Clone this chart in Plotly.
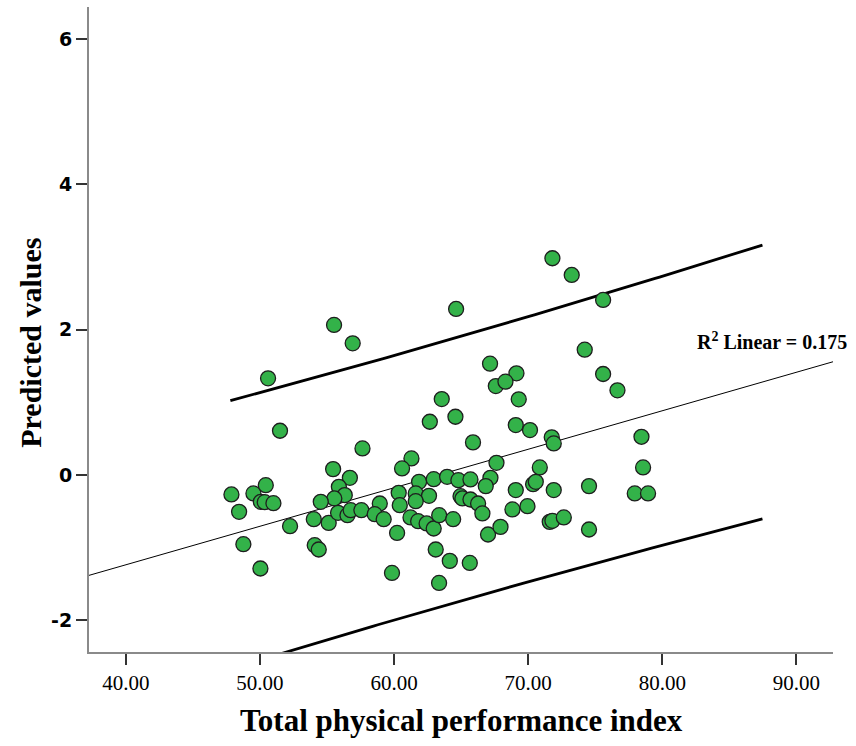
import numpy as np
import plotly.graph_objects as go

# Scatter data: Total physical performance index vs predicted values
perf_index = [
    50.61, 55.53, 56.92, 64.63, 67.16, 67.59, 63.56, 62.67, 64.58, 65.89,
    51.50, 57.65, 71.81, 73.25, 75.59, 74.22, 75.59, 76.66, 69.13, 68.31,
    69.30, 69.08, 70.14, 71.76, 71.91, 78.45, 78.57, 77.95, 78.94, 47.88,
    48.45, 49.52, 50.44, 50.07, 50.36, 51.01, 48.77, 50.04, 52.25, 55.46,
    56.71, 55.89, 56.33, 55.55, 54.54, 54.02, 55.13, 55.83, 56.53, 56.77,
    57.57, 54.09, 54.39, 61.30, 60.60, 67.64, 61.87, 62.96, 63.96, 64.80,
    65.70, 67.19, 66.84, 60.35, 61.62, 62.61, 61.62, 60.43, 58.94, 58.56,
    59.23, 61.23, 61.80, 62.43, 62.96, 63.37, 64.41, 64.96, 65.10, 65.70,
    66.27, 66.59, 67.01, 67.94, 60.23, 63.11, 64.16, 65.65, 59.85, 63.36,
    70.87, 74.54, 71.91, 70.37, 70.57, 69.08, 68.83, 69.95, 71.61, 71.81,
    72.66, 74.54,
]
predicted = [
    1.329, 2.064, 1.811, 2.284, 1.531, 1.223, 1.044, 0.732, 0.801, 0.448,
    0.608, 0.365, 2.982, 2.752, 2.408, 1.724, 1.389, 1.164, 1.398, 1.283,
    1.040, 0.686, 0.617, 0.517, 0.434, 0.525, 0.103, -0.255, -0.255, -0.269,
    -0.508, -0.255, -0.141, -0.370, -0.375, -0.389, -0.953, -1.288, -0.705, 0.080,
    -0.040, -0.164, -0.278, -0.324, -0.370, -0.609, -0.660, -0.522, -0.554, -0.485,
    -0.485, -0.967, -1.026, 0.227, 0.089, 0.167, -0.095, -0.058, -0.026, -0.072,
    -0.062, -0.040, -0.154, -0.246, -0.255, -0.288, -0.361, -0.416, -0.393, -0.540,
    -0.609, -0.585, -0.636, -0.668, -0.737, -0.554, -0.609, -0.292, -0.324, -0.338,
    -0.393, -0.530, -0.820, -0.715, -0.798, -1.026, -1.183, -1.211, -1.349, -1.486,
    0.103, -0.154, -0.209, -0.127, -0.095, -0.209, -0.475, -0.430, -0.646, -0.632,
    -0.585, -0.751,
]

# Linear fit (R^2 = 0.175) and individual prediction interval parameters
fit_intercept = -3.357
fit_slope = 0.0530
band_center_x = 63.0
band_min_halfwidth_sq = 3.310
band_growth = 0.000406
band_x_range = [47.80, 87.47]

x_range = [37.26, 92.73]
y_range = [-2.437, 6.44]
x_tickvals = [40, 50, 60, 70, 80, 90]
y_tickvals = [-2, 0, 2, 4, 6]
y_ticktext = ["-2", "0", "2", "4", "6"]
r2_label = "R<sup>2</sup> Linear = 0.175"

fit_x = np.linspace(x_range[0], x_range[1], 50)
fit_y = fit_intercept + fit_slope * fit_x

band_x = np.linspace(band_x_range[0], band_x_range[1], 120)
band_fit = fit_intercept + fit_slope * band_x
band_w = np.sqrt(band_min_halfwidth_sq + band_growth * (band_x - band_center_x) ** 2)
upper = band_fit + band_w
lower = band_fit - band_w

fig = go.Figure()
fig.add_trace(go.Scatter(x=fit_x, y=fit_y, mode="lines",
                         line=dict(color="black", width=1), showlegend=False,
                         hoverinfo="skip"))
fig.add_trace(go.Scatter(x=band_x, y=upper, mode="lines",
                         line=dict(color="black", width=2.8), showlegend=False,
                         hoverinfo="skip"))
fig.add_trace(go.Scatter(x=band_x, y=lower, mode="lines",
                         line=dict(color="black", width=2.8), showlegend=False,
                         hoverinfo="skip"))
fig.add_trace(go.Scatter(x=perf_index, y=predicted, mode="markers",
                         marker=dict(size=15, color="#33B249",
                                     line=dict(color="#1e1e1e", width=1.3)),
                         showlegend=False))

serif = "Liberation Serif, Times New Roman, serif"

fig.update_layout(
    width=856, height=746, autosize=False,
    margin=dict(l=89, r=23, t=7, b=94),
    paper_bgcolor="white", plot_bgcolor="white",
    xaxis=dict(range=x_range, tickvals=x_tickvals, tickformat=".2f",
               showgrid=False, zeroline=False, showline=True,
               linecolor="#8a8a8a", linewidth=2, ticks="outside",
               ticklen=11, tickwidth=1.5, tickcolor="#333",
               tickfont=dict(family=serif, size=21, color="black")),
    yaxis=dict(range=y_range, tickvals=y_tickvals, ticktext=y_ticktext,
               showgrid=False, zeroline=False, showline=True,
               linecolor="#8a8a8a", linewidth=2, ticks="outside",
               ticklen=11, tickwidth=1.5, tickcolor="#333",
               tickfont=dict(family="DejaVu Sans, sans-serif", size=19,
                             color="black", weight="bold")),
    annotations=[
        dict(text="Total physical performance index", xref="paper", yref="paper",
             x=0.501, y=-0.106, xanchor="center", yanchor="middle",
             showarrow=False,
             font=dict(family=serif, size=31, color="black", weight="bold")),
        dict(text="Predicted values", xref="paper", yref="paper",
             x=-0.0797, y=0.479, xanchor="center", yanchor="middle",
             textangle=-90, showarrow=False,
             font=dict(family=serif, size=30, color="black", weight="bold")),
        dict(text=r2_label, xref="x", yref="y", x=82.42, y=1.84,
             xanchor="left", yanchor="middle", showarrow=False,
             font=dict(family=serif, size=20, color="black", weight="bold")),
    ],
)

fig.write_html("out.html", config={"displayModeBar": False},
               post_script="document.body.style.margin='0';document.body.style.padding='0';")
